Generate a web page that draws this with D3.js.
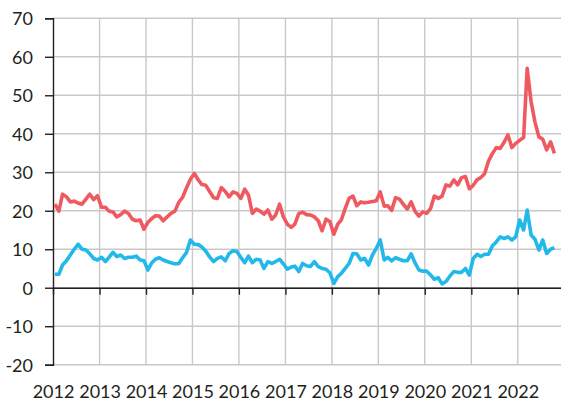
<!DOCTYPE html>
<html>
<head>
<meta charset="utf-8">
<script src="https://cdn.jsdelivr.net/npm/d3@7/dist/d3.min.js"></script>
<style>
  html, body { margin: 0; padding: 0; background: #fff; }
  svg { display: block; }
  .tick text { font-family: Lato, "Noto Sans", sans-serif; font-size: 18px; fill: #231f20; }
</style>
</head>
<body>
<svg id="chart" width="561" height="401"></svg>
<script>
// Monthly series, January 2012 through October 2022
const startYear = 2012;
const startMonth = 0;

const redSeries = [
  21.7, 19.9, 24.3, 23.6, 22.3, 22.5, 22.0, 21.7, 23.0, 24.3, 22.9, 23.9,
  20.9, 20.9, 19.9, 19.7, 18.4, 19.0, 19.9, 19.3, 17.8, 17.4, 17.6, 15.2,
  17.0, 18.0, 18.7, 18.6, 17.4, 18.4, 19.3, 19.9, 22.2, 23.5, 26.0, 28.2,
  29.7, 28.0, 26.8, 26.6, 25.0, 23.4, 23.2, 26.0, 25.0, 23.6, 24.9, 24.5,
  23.2, 25.6, 24.1, 19.3, 20.4, 19.9, 19.1, 20.2, 17.8, 18.9, 21.7, 18.4,
  16.5, 15.7, 16.5, 19.3, 19.6, 19.0, 18.9, 18.4, 17.4, 14.8, 17.8, 17.2,
  13.9, 16.5, 17.6, 20.6, 23.2, 23.8, 21.3, 22.3, 22.1, 22.2, 22.4, 22.6,
  24.9, 21.2, 21.3, 20.1, 23.4, 23.0, 21.7, 20.4, 22.3, 19.9, 18.6, 19.7,
  19.3, 20.6, 23.8, 23.2, 23.8, 26.7, 26.4, 28.0, 26.7, 28.6, 28.9, 25.7,
  26.6, 28.1, 28.6, 29.7, 32.9, 34.9, 36.4, 36.2, 37.8, 39.7, 36.4, 37.5,
  38.3, 39.0, 57.0, 48.3, 43.1, 39.2, 38.6, 35.8, 37.9, 34.9
];

const blueSeries = [
  3.5, 3.5, 5.9, 7.0, 8.5, 10.0, 11.3, 10.0, 9.8, 8.8, 7.6, 7.2,
  7.9, 6.8, 7.9, 9.2, 8.1, 8.5, 7.6, 7.9, 7.9, 8.2, 7.2, 7.0,
  4.6, 6.5, 7.4, 7.8, 7.2, 6.8, 6.5, 6.2, 6.3, 7.8, 9.2, 12.4,
  11.3, 11.2, 10.6, 9.5, 8.0, 6.8, 7.6, 8.0, 7.0, 8.9, 9.6, 9.4,
  7.9, 6.5, 8.2, 6.5, 7.4, 7.2, 5.0, 6.8, 6.3, 6.8, 7.4, 6.2,
  4.8, 5.4, 5.6, 4.2, 6.3, 5.7, 5.5, 6.8, 5.5, 5.0, 4.8, 3.9,
  1.1, 2.9, 3.7, 5.0, 6.3, 8.9, 8.8, 7.2, 7.6, 5.9, 8.5, 10.2,
  12.4, 7.2, 7.9, 7.0, 7.8, 7.4, 7.0, 7.0, 8.8, 6.5, 4.6, 4.3,
  4.3, 3.3, 2.2, 2.6, 1.0, 1.6, 3.0, 4.2, 4.0, 4.0, 5.0, 3.3,
  7.6, 8.7, 8.1, 8.7, 8.7, 10.9, 11.9, 13.2, 12.8, 13.2, 12.4, 13.2,
  17.6, 15.0, 20.2, 13.7, 12.6, 9.8, 12.4, 8.9, 10.0, 10.4
];

const yTicks = [-20, -10, 0, 10, 20, 30, 40, 50, 60, 70];
const yearTicks = [2012, 2013, 2014, 2015, 2016, 2017, 2018, 2019, 2020, 2021, 2022];

const svg = d3.select("#chart");
const width = 561;

const x = d3.scaleTime()
  .domain([new Date(2012, 0, 1), new Date(2023, 0, 1)])
  .range([53, 564.2]);
const y = d3.scaleLinear()
  .domain([-20, 70])
  .range([364.7, 18.3]);

// Each monthly value sits at the middle of its month
const monthDate = i => new Date(startYear, startMonth + i, 16);
const toPoints = arr => arr.map((v, i) => ({ date: monthDate(i), value: v }));

// Grid
const grid = svg.append("g").attr("class", "grid");
grid.selectAll("line.h")
  .data(yTicks)
  .join("line")
  .attr("class", "h")
  .attr("x1", x.range()[0]).attr("x2", width)
  .attr("y1", d => y(d)).attr("y2", d => y(d))
  .attr("stroke", "#c9c9c9").attr("stroke-width", 1.4);
grid.selectAll("line.v")
  .data(yearTicks.slice(1).map(yr => new Date(yr, 0, 1)))
  .join("line")
  .attr("class", "v")
  .attr("x1", d => x(d)).attr("x2", d => x(d))
  .attr("y1", y(70)).attr("y2", y(-20))
  .attr("stroke", "#c9c9c9").attr("stroke-width", 1.4);

// Y axis (plain hyphen for negative labels)
const yAxis = svg.append("g")
  .attr("transform", `translate(${x.range()[0]},0)`)
  .call(d3.axisLeft(y).tickValues(yTicks).tickSize(8).tickPadding(12).tickFormat(d => String(d)));
yAxis.select(".domain").attr("stroke", "#231f20").attr("stroke-width", 1.4);
yAxis.selectAll(".tick line").attr("stroke", "#231f20").attr("stroke-width", 1.4);
yAxis.selectAll(".tick text").attr("dy", "0.35em");

// X axis along the zero line, year labels below the plot
const xAxis = svg.append("g")
  .attr("transform", `translate(0,${y(0)})`)
  .call(d3.axisBottom(x)
    .tickValues(yearTicks.map(yr => new Date(yr, 0, 1)))
    .tickSize(7)
    .tickSizeOuter(0)
    .tickFormat(d3.timeFormat("%Y")));
xAxis.select(".domain")
  .attr("d", `M${x.range()[0]},0.5H${width}`)
  .attr("stroke", "#231f20").attr("stroke-width", 1.4);
xAxis.selectAll(".tick line").attr("stroke", "#231f20").attr("stroke-width", 1.4);
xAxis.selectAll(".tick text")
  .attr("y", y(-20) - y(0) + 33)
  .attr("dy", 0);

// Lines
const line = d3.line()
  .x(d => x(d.date))
  .y(d => y(d.value));

svg.append("path")
  .datum(toPoints(blueSeries))
  .attr("fill", "none")
  .attr("stroke", "#22b9ea")
  .attr("stroke-width", 3.6)
  .attr("stroke-linejoin", "round")
  .attr("d", line);

svg.append("path")
  .datum(toPoints(redSeries))
  .attr("fill", "none")
  .attr("stroke", "#ef5a60")
  .attr("stroke-width", 3.6)
  .attr("stroke-linejoin", "round")
  .attr("d", line);
</script>
</body>
</html>
